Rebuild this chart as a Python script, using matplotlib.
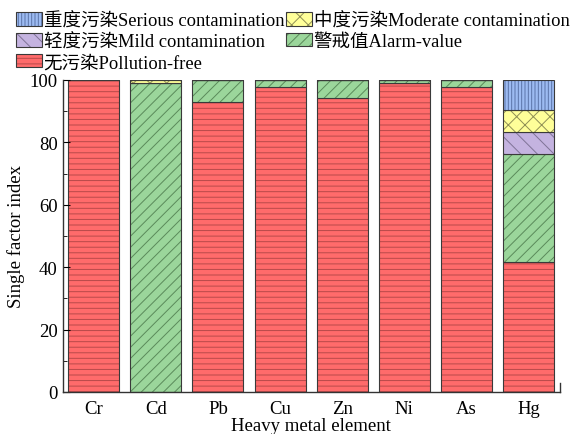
import numpy as np
import matplotlib.pyplot as plt
from matplotlib.ticker import MultipleLocator

plt.rcParams['font.family'] = ['Liberation Serif', 'Noto Sans CJK SC']
plt.rcParams['hatch.linewidth'] = 0.7

elements = ['Cr', 'Cd', 'Pb', 'Cu', 'Zn', 'Ni', 'As', 'Hg']
free = [100, 0, 93.0, 97.9, 94.2, 99.0, 97.7, 41.7]
alarm = [0, 99.0, 7.0, 2.1, 5.8, 1.0, 2.3, 34.6]
mild = [0, 0, 0, 0, 0, 0, 0, 7.0]
moderate = [0, 1.0, 0, 0, 0, 0, 0, 7.0]
serious = [0, 0, 0, 0, 0, 0, 0, 9.7]

names = ['无污染Pollution-free', '警戒值Alarm-value', '轻度污染Mild contamination',
         '中度污染Moderate contamination', '重度污染Serious contamination']
series = [free, alarm, mild, moderate, serious]
fills = ['#ff6b6b', '#9bd69b', '#c4b3e0', '#ffff99', '#9dbbf2']
hatchc = ['#b84a4a', '#5a8a5a', '#7f7396', '#8f8f55', '#5a74a8']
hatches = ['---', '///', '\\\\', 'xx', '|||||']

fig = plt.figure(figsize=(5.8, 4.35), dpi=100)
ax = fig.add_axes([0.108, 0.0966, 0.857, 0.7172])

x = np.arange(len(elements))
bottom = np.zeros(len(elements))
handles = {}
for vals, name, fc, hc, h in zip(series, names, fills, hatchc, hatches):
    vals = np.array(vals, dtype=float)
    b1 = ax.bar(x, vals, 0.82, bottom=bottom, color=fc, edgecolor=hc,
                hatch=h, linewidth=0)
    b2 = ax.bar(x, vals, 0.82, bottom=bottom, fill=False,
                edgecolor='#3a3a3a', linewidth=0.8)
    handles[name] = (b1[0], b2[0])
    bottom += vals

ax.set_xlim(-0.5, 7.5)
ax.set_ylim(0, 100)
ax.set_xticks(x)
ax.set_xticklabels(elements)
ax.tick_params(axis='x', length=0, labelsize=13.5, pad=6)
ax.yaxis.set_major_locator(MultipleLocator(20))
ax.yaxis.set_minor_locator(MultipleLocator(10))
ax.tick_params(axis='y', which='both', direction='in', labelsize=13.5)
ax.tick_params(axis='y', which='major', length=5)
ax.tick_params(axis='y', which='minor', length=3)
for s in ['top', 'right']:
    ax.spines[s].set_visible(False)
for s in ['left', 'bottom']:
    ax.spines[s].set_color('#333333')
    ax.spines[s].set_linewidth(1.0)
ax.plot([7.5, 7.5], [0, 2.8], color='#333333', lw=1.0, clip_on=False)

ax.set_xlabel('Heavy metal element', fontsize=13.5, labelpad=0)
ax.set_ylabel('Single factor index', fontsize=13.5, labelpad=3)

order = [names[4], names[2], names[0], names[3], names[1]]
fig.legend([handles[n] for n in order], order, loc='upper left',
           bbox_to_anchor=(0.005, 1.0), ncol=2, frameon=False, fontsize=13.3,
           handlelength=1.4, handleheight=0.75, handletextpad=0.1,
           columnspacing=0.1, labelspacing=0.2, borderaxespad=0.3)

fig.savefig('out.png', dpi=100)
